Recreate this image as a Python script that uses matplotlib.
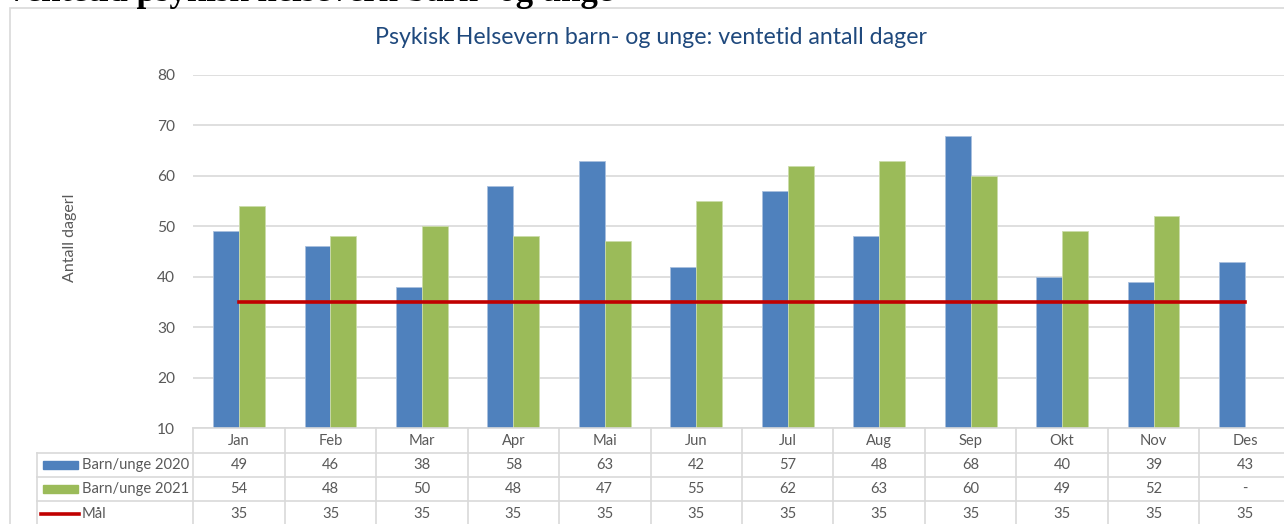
import numpy as np
import matplotlib.pyplot as plt
from matplotlib.lines import Line2D
from matplotlib.patches import Rectangle
from matplotlib.transforms import blended_transform_factory

plt.rcParams['font.family'] = ['Lato', 'DejaVu Sans']

months = ["Jan", "Feb", "Mar", "Apr", "Mai", "Jun", "Jul", "Aug", "Sep", "Okt", "Nov", "Des"]
barn_2020 = [49, 46, 38, 58, 63, 42, 57, 48, 68, 40, 39, 43]
barn_2021 = [54, 48, 50, 48, 47, 55, 62, 63, 60, 49, 52, None]
maal = [35] * 12

series_names = ["Barn/unge 2020", "Barn/unge 2021", "Mål"]
blue = "#4f81bd"
green = "#9bbb59"
red = "#c00000"
gray_txt = "#595959"
grid_col = "#d9d9d9"

W, H = 1284, 524


def fx(x):
    return x / W


def fy(y):
    return 1 - y / H


fig = plt.figure(figsize=(W / 100, H / 100), dpi=100)

# outer chart frame
fig.patches.append(Rectangle((fx(10), fy(530)), fx(1290), fy(8) - fy(530),
                             transform=fig.transFigure, fill=False,
                             edgecolor=grid_col, lw=1.2))

# heading that is cut off at the top of the image
fig.text(fx(4), fy(1), "Ventetid psykisk helsevern barn- og unge",
         family="Liberation Serif", fontweight="bold", fontsize=25,
         va="baseline", ha="left", color="black")

ax_left, ax_right = 193.3, 1290.7
ax = fig.add_axes([fx(ax_left), fy(428), fx(ax_right - ax_left), (428 - 75) / H])

x = np.arange(len(months))
bw = 0.284
v2021 = np.array([np.nan if v is None else v for v in barn_2021], dtype=float)
ax.bar(x - bw / 2, barn_2020, width=bw, color=blue, edgecolor="#a9c0de", lw=0.6, zorder=2)
ax.bar(x + bw / 2, v2021, width=bw, color=green, edgecolor="#cbdcaa", lw=0.6, zorder=2)
ax.plot(x, maal, color=red, lw=2.6, zorder=3)

ax.set_xlim(-0.5, len(months) - 0.5)
ax.set_ylim(10, 80)
ax.set_yticks(range(10, 81, 10))
ax.grid(axis="y", color=grid_col, lw=1.2, zorder=0)
ax.set_axisbelow(True)
for s in ax.spines.values():
    s.set_visible(False)
ax.tick_params(axis="y", length=0, pad=13, labelsize=11.2, labelcolor=gray_txt)
ax.tick_params(axis="x", length=0, labelbottom=False)

fig.text(fx(70), fy(238), "Antall dagerl", rotation=90, ha="center", va="center",
         fontsize=11.5, color=gray_txt)

fig.text(fx(651), fy(38), "Psykisk Helsevern barn- og unge: ventetid antall dager",
         ha="center", va="center", fontsize=16.7, color="#1f497d")

# data table under the axes
tr = blended_transform_factory(ax.transData, fig.transFigure)
row_y = [428, 452.5, 477, 501, 526]
edges = np.arange(len(months) + 1) - 0.5

fig.lines.append(Line2D([-0.5, len(months) - 0.5], [fy(428)] * 2, transform=tr,
                        color=grid_col, lw=1.2))
for yy in row_y[1:4]:
    fig.lines.append(Line2D([fx(37), fx(1290)], [fy(yy)] * 2, transform=fig.transFigure,
                            color=grid_col, lw=1.2))
for e in edges:
    fig.lines.append(Line2D([e, e], [fy(428), fy(526)], transform=tr,
                            color=grid_col, lw=1.2))
fig.lines.append(Line2D([fx(37), fx(37)], [fy(452.5), fy(526)], transform=fig.transFigure,
                        color=grid_col, lw=1.2))

for i, m in enumerate(months):
    fig.text(i, fy(441), m, transform=tr, ha="center", va="center",
             fontsize=10.6, color=gray_txt)

rows = [barn_2020, barn_2021, maal]
for r, vals in enumerate(rows):
    yc = (row_y[r + 1] + row_y[r + 2]) / 2
    for i, v in enumerate(vals):
        fig.text(i, fy(yc), "-" if v is None else str(v), transform=tr,
                 ha="center", va="center", fontsize=10.6, color=gray_txt)
    fig.text(fx(82), fy(yc), series_names[r], ha="left", va="center",
             fontsize=10.6, color=gray_txt)

# legend keys
for r, col in enumerate([blue, green]):
    yc = (row_y[r + 1] + row_y[r + 2]) / 2
    fig.patches.append(Rectangle((fx(43), fy(yc + 4)), fx(35), fy(yc - 4) - fy(yc + 4),
                                 transform=fig.transFigure, color=col))
yc = (row_y[3] + row_y[4]) / 2
fig.lines.append(Line2D([fx(41), fx(79)], [fy(yc), fy(yc)], transform=fig.transFigure,
                        color=red, lw=2.6))

fig.savefig("out.png", dpi=100)
